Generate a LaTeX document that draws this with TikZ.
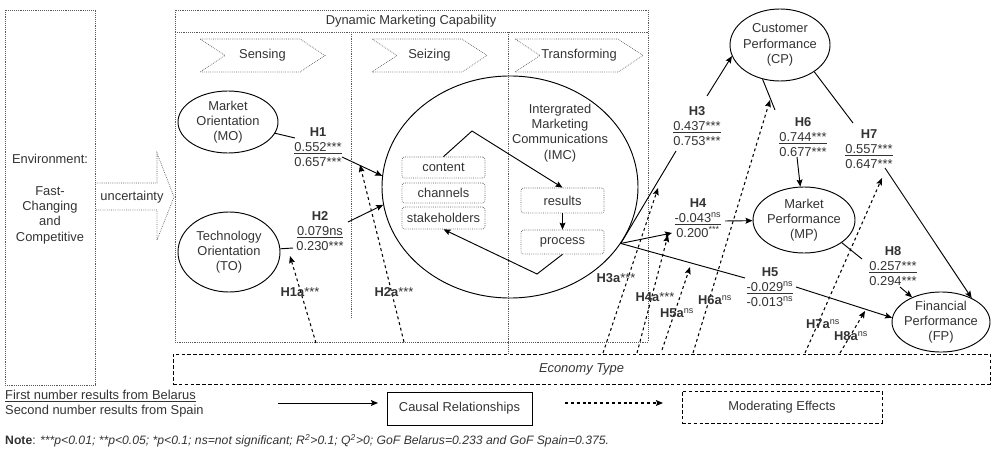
\documentclass[tikz,border=0pt]{standalone}
\usepackage{fontspec}
\setmainfont{Liberation Sans}
\usetikzlibrary{arrows.meta,shapes.geometric}

\tikzset{
  dotbox/.style={draw=black!65, densely dotted, line width=0.6pt},
  inbox/.style={dotbox, rounded corners=2pt, minimum width=2.49cm},
  construct/.style={ellipse, draw=black, line width=0.8pt, inner xsep=-2pt, inner ysep=0pt},
  link/.style={black, line width=0.8pt},
  causal/.style={link, -{Stealth[length=6pt,width=5pt,inset=1pt]}},
  moder/.style={black, line width=0.9pt, dash pattern=on 2.5pt off 2.5pt, -{Stealth[length=6pt,width=5pt,inset=1pt]}},
  ecobox/.style={draw=black, line width=0.8pt, dash pattern=on 3pt off 2pt},
  modlabel/.style={font=\fontsize{11}{13}\selectfont\bfseries}
}

\begin{document}
\begin{tikzpicture}[x=0.03cm, y=-0.03cm, every node/.style={font=\fontsize{11}{13}\selectfont, text=black!80, align=center, inner sep=0pt}]
\useasboundingbox (0,0) rectangle (992,455);

% environment and uncertainty
\draw[dotbox] (5,10) rectangle (95,385);
\node (env) at (50,199) {Environment:\\[0.5cm]Fast-\\Changing\\and\\Competitive};
\draw[dotbox] (95,183) -- (157,183) -- (157,153) -- (174,197) -- (157,240) -- (157,210) -- (95,210);
\node (unc) at (132,197) {uncertainty};

% dynamic marketing capability frame
\draw[dotbox] (175,10) rectangle (648,342);
\draw[dotbox] (175,32) -- (648,32);
\node (dmc) at (411,21) {Dynamic Marketing Capability};
\draw[dotbox] (351,32) -- (351,318);
\draw[dotbox] (508,32) -- (508,353);
\foreach \xl/\xr/\stage in {200/325/Sensing, 372/487/Seizing, 515/643/Transforming}{
  \draw[dotbox] (\xl,39) -- (\xr-25,39) -- (\xr,55.5) -- (\xr-25,72) -- (\xl,72) -- (\xl+25,55.5) -- cycle;
  \node (\stage) at ({(\xl+\xr)/2},55.5) {\stage};
}

% constructs
\node[construct, minimum width=3cm, minimum height=1.86cm] (mo) at (228,122) {Market\\Orientation\\(MO)};
\node[construct, minimum width=3.06cm, minimum height=2.4cm] (to) at (229,252) {Technology\\Orientation\\(TO)};
\node[construct, minimum width=7.68cm, minimum height=6.66cm] (imc) at (510,187) {};
\node (imctext) at (560,133) {Intergrated\\Marketing\\Communications\\(IMC)};
\node[construct, minimum width=3cm, minimum height=2.16cm] (cp) at (780,45) {Customer\\Performance\\(CP)};
\node[construct, minimum width=3.06cm, minimum height=1.98cm] (mp) at (804,220) {Market\\Performance\\(MP)};
\node[construct, minimum width=2.94cm, minimum height=1.8cm] (fp) at (941,322) {Financial\\Performance\\(FP)};

% IMC cycle
\node[inbox, minimum height=0.63cm] (content) at (443.5,167.5) {content};
\node[inbox, minimum height=0.6cm] (channels) at (443.5,193) {channels};
\node[inbox, minimum height=0.66cm] (stakeholders) at (443.5,218) {stakeholders};
\node[inbox, minimum height=0.75cm] (results) at (562.5,200.5) {results};
\node[inbox, minimum height=0.72cm] (process) at (562.5,242) {process};
\coordinate (ctop) at (472,131);
\coordinate (pbot) at (537,274);
\draw[causal] (content.north) -- (ctop) -- (results.north);
\draw[causal] (results) -- (process);
\draw[causal] (process.south) -- (pbot) -- (stakeholders.south);

% path coefficients
\node (h1) at (318,147) {\textbf{H1}\\\underline{0.552***}\\0.657***};
\node (h2) at (320,231) {\textbf{H2}\\\underline{0.079ns}\\0.230***};
\node (h3) at (697,126) {\textbf{H3}\\\underline{0.437***}\\0.753***};
\node (h4) at (698,218) {\textbf{H4}\\\underline{-0.043\textsuperscript{ns}}\\0.200\textsuperscript{***}};
\node (h5) at (770,287) {\textbf{H5}\\\underline{-0.029\textsuperscript{ns}}\\-0.013\textsuperscript{ns}};
\node (h6) at (803,137) {\textbf{H6}\\\underline{0.744***}\\0.677***};
\node (h7) at (869,149) {\textbf{H7}\\\underline{0.557***}\\0.647***};
\node (h8) at (893,266) {\textbf{H8}\\\underline{0.257***}\\0.294***};

\coordinate (h1in) at (295,138);  \coordinate (h1out) at (342,157);
\coordinate (h2in) at (293,248);  \coordinate (h2out) at (348,222);
\coordinate (imcout) at (imc.333);
\coordinate (h3in) at (676,151);  \coordinate (h3out) at (707,96);
\coordinate (h4in) at (672,233);  \coordinate (h4out) at (725,221);
\coordinate (h5in) at (745,278);  \coordinate (h5out) at (796,287);
\coordinate (h6in) at (775,110);  \coordinate (h6out) at (797,157);
\coordinate (h7in) at (853,123);  \coordinate (h7out) at (885,168);
\coordinate (h8in) at (862,259);  \coordinate (h8out) at (900,287);

\draw[link] (mo) -- (h1in);
\draw[causal] (h1out) -- (imc.175);
\draw[link] (to) -- (h2in);
\draw[causal] (h2out) -- (imc.188);
\draw[link] (imcout) -- (h3in);
\draw[causal] (h3out) -- (cp.193);
\draw[causal] (imcout) -- (h4in);
\draw[causal] (h4out) -- (mp);
\draw[link] (imcout) -- (h5in);
\draw[causal] (h5out) -- (fp.175);
\draw[link] (cp.243) -- (h6in);
\draw[causal] (h6out) -- (mp);
\draw[link] (cp.322) -- (h7in);
\draw[causal] (h7out) -- (fp.38);
\draw[link] (mp.329) -- (h8in);
\draw[causal] (h8out) -- (fp);

% economy type and moderation
\node[ecobox, minimum width=24.51cm, minimum height=0.9cm] (eco) at (581.5,369) {\textit{Economy Type}};
\foreach \hyp/\xs/\ys/\xe/\ye/\xl/\yl/\sig in {
    H1a/316/343/290/256/300/292/{\mdseries***}, H2a/404/342/360/165/394/292/{\mdseries***},
    H3a/603/353/658/188/616/278/{\mdseries***}, H4a/637/353/668/235/655/297/{\mdseries***},
    H5a/662/350/690/267/677/313/\textsuperscript{\mdseries ns},  H6a/693/353/770/100/715/300/\textsuperscript{\mdseries ns},
    H7a/805/353/882/178/823/324/\textsuperscript{\mdseries ns},  H8a/840/353/865/311/851/336/\textsuperscript{\mdseries ns}}{
  \coordinate (\hyp s) at (\xs,\ys);
  \coordinate (\hyp e) at (\xe,\ye);
  \draw[moder] (\hyp s) -- (\hyp e);
  \node[modlabel] (\hyp) at (\xl,\yl) {\hyp\sig};
}

% legend
\node[anchor=west, align=left] (key) at (5,404) {\underline{First number results from Belarus}\\Second number results from Spain};
\coordinate (ca1) at (278,403); \coordinate (ca2) at (378,403);
\draw[causal] (ca1) -- (ca2);
\node[draw=black, line width=0.8pt, minimum width=4.35cm, minimum height=0.99cm] (cr) at (459.5,408.5) {Causal Relationships};
\coordinate (ma1) at (565,403); \coordinate (ma2) at (663,403);
\draw[moder] (ma1) -- (ma2);
\node[ecobox, minimum width=6cm, minimum height=0.96cm] (me) at (782,407) {Moderating Effects};
\node[anchor=west, font=\fontsize{10.4}{12}\selectfont] (note) at (5,441) {\textbf{Note}: \textit{***p<0.01; **p<0.05; *p<0.1; ns=not significant; R\textsuperscript{2}>0.1; Q\textsuperscript{2}>0; GoF Belarus=0.233 and GoF Spain=0.375.}};
\end{tikzpicture}
\end{document}
